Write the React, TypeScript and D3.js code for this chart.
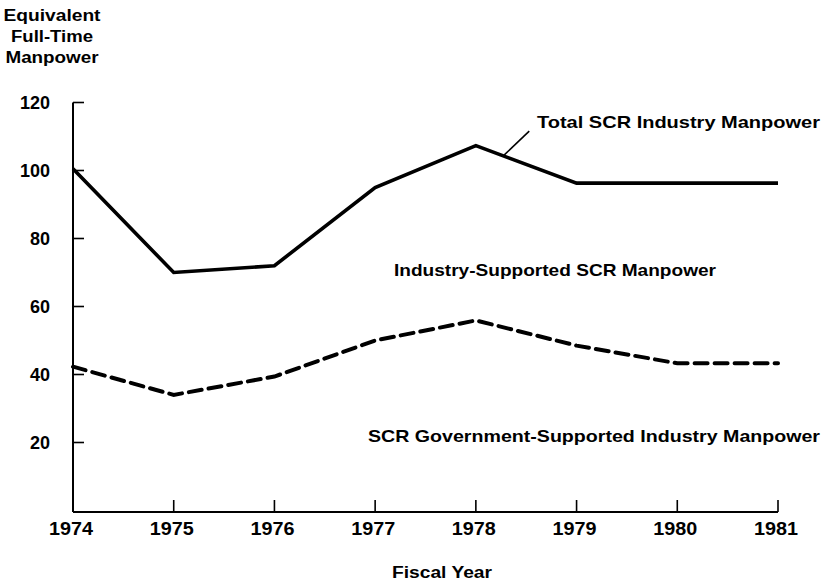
import React from "react";
import * as d3 from "d3";

const years = [1974, 1975, 1976, 1977, 1978, 1979, 1980, 1981];
const totalManpower = [100.5, 70, 72, 95, 107.3, 96.3, 96.3, 96.3];
const govManpower = [42.3, 34, 39.4, 50, 55.9, 48.5, 43.3, 43.3];
const yTicks = [20, 40, 60, 80, 100, 120];
const yTitle = ["Equivalent", "Full-Time", "Manpower"];
const xTitle = "Fiscal Year";
const labelTotal = "Total SCR Industry Manpower";
const labelIndustry = "Industry-Supported SCR Manpower";
const labelGov = "SCR Government-Supported Industry Manpower";
const leaderFrom = { year: 1978.28, value: 104.5 };
const leaderTo = { year: 1978.53, value: 111.6 };

const W = 825;
const H = 582;
const FONT = "'Liberation Sans', Arial, Helvetica, sans-serif";

export default function App() {
  const x = d3.scaleLinear().domain([1974, 1981]).range([73, 778]);
  const y = d3.scaleLinear().domain([0, 120]).range([510.5, 102.5]);

  const line = d3
    .line<[number, number]>()
    .x((d) => x(d[0]))
    .y((d) => y(d[1]));

  const totalPts = years.map((yr, i) => [yr, totalManpower[i]] as [number, number]);
  const govPts = years.map((yr, i) => [yr, govManpower[i]] as [number, number]);

  const x0 = x(1974);
  const y0 = y(0) + 1.5;
  const yTop = y(120);

  return (
    <svg
      width={W}
      height={H}
      style={{ position: "absolute", left: 0, top: 0, background: "#fff" }}
      fontFamily={FONT}
    >
      <rect x={0} y={0} width={W} height={H} fill="#fff" />
      {/* y-axis title */}
      {yTitle.map((t, i) => (
        <text
          key={t}
          x={52}
          y={21 + i * 21}
          textAnchor="middle"
          fontSize={16}
          fontWeight="bold"
          textLength={[97, 82, 93][i]}
          lengthAdjust="spacingAndGlyphs"
        >
          {t}
        </text>
      ))}

      {/* axes */}
      <line x1={x0} y1={yTop} x2={x0} y2={y0} stroke="#000" strokeWidth={2} />
      <line x1={x0} y1={y0} x2={x(1981)} y2={y0} stroke="#000" strokeWidth={2} />
      {yTicks.map((v) => (
        <g key={v}>
          <line x1={x0} x2={x0 + 11} y1={y(v)} y2={y(v)} stroke="#000" strokeWidth={1.6} />
          <text
            x={50}
            y={y(v)}
            dy="0.36em"
            textAnchor="end"
            fontSize={18}
            fontWeight="bold"
          >
            {v}
          </text>
        </g>
      ))}
      {years.map((yr) => (
        <g key={yr}>
          {yr !== 1974 && (
            <line x1={x(yr)} x2={x(yr)} y1={y0} y2={y0 - 12} stroke="#000" strokeWidth={1.6} />
          )}
          <text
            x={x(yr) - 2}
            y={535}
            textAnchor="middle"
            fontSize={18}
            fontWeight="bold"
            textLength={44}
            lengthAdjust="spacingAndGlyphs"
          >
            {yr}
          </text>
        </g>
      ))}
      <text
        x={442}
        y={578}
        textAnchor="middle"
        fontSize={16}
        fontWeight="bold"
        textLength={100}
        lengthAdjust="spacingAndGlyphs"
      >
        {xTitle}
      </text>

      {/* series */}
      <path
        d={line(totalPts) || ""}
        fill="none"
        stroke="#000"
        strokeWidth={3.6}
        strokeLinejoin="miter"
      />
      <path
        d={line(govPts) || ""}
        fill="none"
        stroke="#000"
        strokeWidth={4}
        strokeDasharray="13 7"
        strokeLinecap="round"
      />

      {/* annotations */}
      <line
        x1={x(leaderFrom.year)}
        y1={y(leaderFrom.value)}
        x2={x(leaderTo.year)}
        y2={y(leaderTo.value)}
        stroke="#000"
        strokeWidth={1.6}
      />
      <text
        x={537}
        y={128}
        fontSize={17}
        fontWeight="bold"
        textLength={283}
        lengthAdjust="spacingAndGlyphs"
      >
        {labelTotal}
      </text>
      <text
        x={394}
        y={276}
        fontSize={17}
        fontWeight="bold"
        textLength={322}
        lengthAdjust="spacingAndGlyphs"
      >
        {labelIndustry}
      </text>
      <text
        x={368}
        y={442}
        fontSize={17}
        fontWeight="bold"
        textLength={452}
        lengthAdjust="spacingAndGlyphs"
      >
        {labelGov}
      </text>
    </svg>
  );
}
